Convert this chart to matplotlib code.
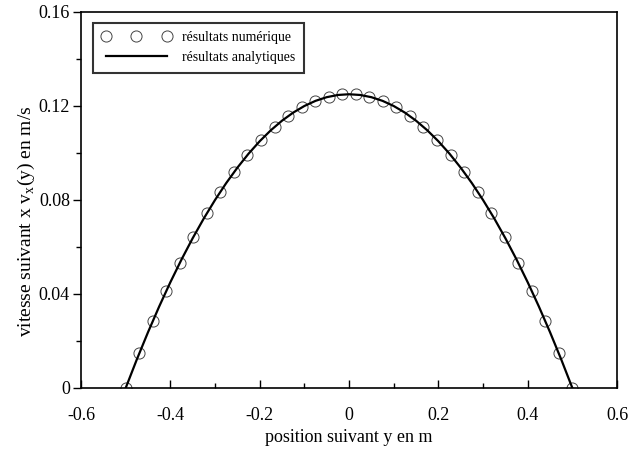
import numpy as np
import matplotlib
matplotlib.use("Agg")
import matplotlib.pyplot as plt
from matplotlib.ticker import MultipleLocator

plt.rcParams['font.family'] = ['Liberation Serif', 'DejaVu Serif']
plt.rcParams['mathtext.fontset'] = 'custom'
plt.rcParams['mathtext.rm'] = 'Liberation Serif'

# numerical results
y_num = [-0.5, -0.4697, -0.4394, -0.4091, -0.3788, -0.3485, -0.3182, -0.2879,
         -0.2576, -0.2273, -0.1970, -0.1667, -0.1364, -0.1061, -0.0758, -0.0455,
         -0.0152, 0.0152, 0.0455, 0.0758, 0.1061, 0.1364, 0.1667, 0.1970,
         0.2273, 0.2576, 0.2879, 0.3182, 0.3485, 0.3788, 0.4091, 0.4394,
         0.4697, 0.5]
v_num = [0.0, 0.0147, 0.0285, 0.0413, 0.0533, 0.0643, 0.0744, 0.0836,
         0.0918, 0.0992, 0.1056, 0.1111, 0.1157, 0.1194, 0.1221, 0.1240,
         0.1249, 0.1249, 0.1240, 0.1221, 0.1194, 0.1157, 0.1111, 0.1056,
         0.0992, 0.0918, 0.0836, 0.0744, 0.0643, 0.0533, 0.0413, 0.0285,
         0.0147, 0.0]

# analytical results
y_ana = [-0.5, -0.475, -0.45, -0.425, -0.4, -0.375, -0.35, -0.325, -0.3, -0.275,
         -0.25, -0.225, -0.2, -0.175, -0.15, -0.125, -0.1, -0.075, -0.05, -0.025,
         0.0, 0.025, 0.05, 0.075, 0.1, 0.125, 0.15, 0.175, 0.2, 0.225, 0.25,
         0.275, 0.3, 0.325, 0.35, 0.375, 0.4, 0.425, 0.45, 0.475, 0.5]
v_ana = [0.0, 0.01219, 0.02375, 0.03469, 0.045, 0.05469, 0.06375, 0.07219,
         0.08, 0.08719, 0.09375, 0.09969, 0.105, 0.10969, 0.11375, 0.11719,
         0.12, 0.12219, 0.12375, 0.12469, 0.125, 0.12469, 0.12375, 0.12219,
         0.12, 0.11719, 0.11375, 0.10969, 0.105, 0.09969, 0.09375, 0.08719,
         0.08, 0.07219, 0.06375, 0.05469, 0.045, 0.03469, 0.02375, 0.01219, 0.0]

xticks = [-0.6, -0.4, -0.2, 0, 0.2, 0.4, 0.6]
xtick_labels = ['-0.6', '-0.4', '-0.2', '0', '0.2', '0.4', '0.6']
yticks = [0, 0.04, 0.08, 0.12, 0.16]
ytick_labels = ['0', '0.04', '0.08', '0.12', '0.16']

fig = plt.figure(figsize=(6.35, 4.51), dpi=100)
ax = fig.add_axes([0.1276, 0.1397, 0.8441, 0.8337])

ax.plot(y_num, v_num, linestyle='none', marker='o', markersize=8,
        markerfacecolor='white', markeredgecolor='#444444', markeredgewidth=0.7,
        label='résultats numérique', zorder=2)
ax.plot(y_ana, v_ana, color='black', linewidth=1.6, label='résultats analytiques', zorder=3)

ax.set_xlim(-0.6, 0.6)
ax.set_ylim(0, 0.16)
ax.set_xticks(xticks)
ax.set_xticklabels(xtick_labels)
ax.set_yticks(yticks)
ax.set_yticklabels(ytick_labels)
ax.xaxis.set_minor_locator(MultipleLocator(0.1))
ax.yaxis.set_minor_locator(MultipleLocator(0.02))

ax.tick_params(axis='x', which='both', direction='in', labelsize=13, pad=14)
ax.tick_params(axis='y', which='both', direction='out', labelsize=13, pad=2)
ax.tick_params(which='major', length=6, width=1)
ax.tick_params(which='minor', length=3.5, width=1)
for s in ax.spines.values():
    s.set_linewidth(1.2)

ax.set_xlabel('position suivant y en m', fontsize=13, labelpad=3)
ax.set_ylabel(r'vitesse suivant x v$_{\mathrm{x}}$(y) en m/s', fontsize=14)
ax.yaxis.set_label_coords(-0.082, 0.444)

leg = ax.legend(loc='upper left', numpoints=3, fontsize=10, frameon=True,
                fancybox=False, edgecolor='black', handlelength=5,
                handletextpad=0.8, bbox_to_anchor=(0.0224, 0.971),
                borderaxespad=0, borderpad=0.6, labelspacing=0.5)
leg.get_frame().set_linewidth(1.5)

fig.savefig('out.png', dpi=100)
